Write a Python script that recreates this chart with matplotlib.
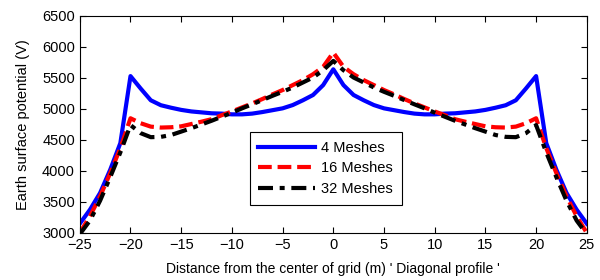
import numpy as np
import matplotlib
matplotlib.use('Agg')
import matplotlib.pyplot as plt

plt.rcParams['font.family'] = ['Liberation Sans', 'DejaVu Sans']
plt.rcParams['font.size'] = 10.5

# distancia a lo largo del perfil diagonal (m)
dist = list(range(-25, 26))

# potencial superficial (V) para cada malla
v_4 = [3150, 3375, 3645, 4020, 4450, 5530, 5330, 5140, 5060, 5020, 4985, 4960, 4945,
       4930, 4925, 4913, 4913, 4925, 4950, 4980, 5010, 5063, 5140, 5225, 5385,
       5640,
       5385, 5225, 5140, 5063, 5010, 4980, 4950, 4925, 4913, 4913, 4925, 4930,
       4945, 4960, 4985, 5020, 5060, 5140, 5330, 5530, 4450, 4020, 3645, 3375, 3150]
v_16 = [3000, 3270, 3590, 3965, 4370, 4850, 4770, 4715, 4700, 4705, 4720, 4757, 4795,
        4835, 4900, 4960, 5025, 5090, 5160, 5235, 5305, 5385, 5465, 5560, 5680,
        5910,
        5680, 5560, 5465, 5385, 5305, 5235, 5160, 5090, 5025, 4960, 4900, 4835,
        4795, 4757, 4720, 4705, 4700, 4715, 4770, 4850, 4370, 3965, 3590, 3270, 3000]
v_32 = [2980, 3200, 3520, 3900, 4300, 4740, 4610, 4545, 4550, 4580, 4635, 4690, 4750,
        4810, 4875, 4940, 5010, 5075, 5143, 5212, 5277, 5347, 5427, 5507, 5625,
        5775,
        5625, 5507, 5427, 5347, 5277, 5212, 5143, 5075, 5010, 4940, 4875, 4810,
        4750, 4690, 4635, 4580, 4550, 4545, 4610, 4740, 4300, 3900, 3520, 3200, 2980]

fig = plt.figure(figsize=(6, 2.8), dpi=100)
ax = fig.add_axes([0.133, 0.168, 0.845, 0.775])

ax.plot(dist, v_4, color='#0000ff', lw=3, label='4 Meshes')
ax.plot(dist, v_16, color='#ff0000', lw=3, dashes=(3.3, 1.4), label='16 Meshes')
ax.plot(dist, v_32, color='black', lw=3, dashes=(3.6, 1.6, 1.2, 1.6), label='32 Meshes')

ax.set_xlim(-25, 25)
ax.set_ylim(3000, 6500)
ax.set_xticks(range(-25, 26, 5))
ax.set_yticks(range(3000, 6501, 500))
ax.tick_params(direction='in', top=True, right=True, length=4, width=0.8)
for s in ax.spines.values():
    s.set_linewidth(0.8)

ax.set_xlabel("Distance from the center of grid (m) ' Diagonal profile '",
              fontsize=10, labelpad=7)
ax.set_ylabel('Earth surface potential (V)', fontsize=10.5, labelpad=9)

leg = ax.legend(loc='lower left', bbox_to_anchor=(0.335, 0.13), borderaxespad=0,
                handlelength=3.9, handletextpad=0.4, fancybox=False, framealpha=1,
                edgecolor='black', borderpad=0.6, labelspacing=0.45)
leg.get_frame().set_linewidth(0.8)

fig.savefig('out.png', dpi=100)
